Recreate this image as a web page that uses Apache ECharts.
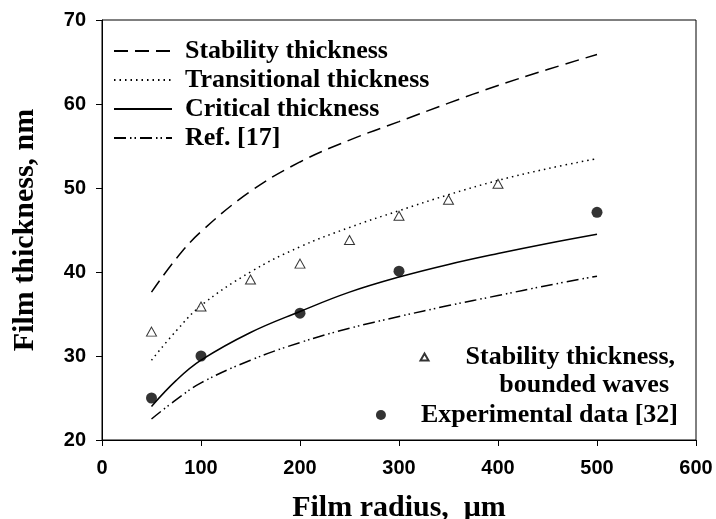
<!DOCTYPE html>
<html>
<head>
<meta charset="utf-8">
<script src="https://cdn.jsdelivr.net/npm/echarts@6/dist/echarts.min.js"></script>
<style>
  html, body { margin: 0; padding: 0; background: #fff; }
  #chart { width: 716px; height: 519px; }
</style>
</head>
<body>
<div id="chart"></div>
<script>
// film radius (um) for the model curves
var radius = [50, 75, 100, 150, 200, 250, 300, 350, 400, 450, 500];
var stability = [37.6, 41.6, 44.8, 49.6, 53.1, 55.7, 57.9, 60.1, 62.2, 64.1, 65.9];
var transitional = [29.5, 33.0, 36.0, 40.0, 43.0, 45.3, 47.3, 49.2, 50.9, 52.3, 53.5];
var critical = [24.0, 27.1, 29.5, 32.8, 35.3, 37.6, 39.4, 40.9, 42.2, 43.4, 44.5];
var ref17 = [22.5, 24.8, 26.8, 29.5, 31.6, 33.3, 34.7, 36.0, 37.2, 38.4, 39.5];

// point data
var boundedRadius = [50, 100, 150, 200, 250, 300, 350, 400];
var boundedValues = [32.9, 35.9, 39.1, 41.0, 43.8, 46.7, 48.6, 50.5];
var expRadius = [50, 100, 200, 300, 500];
var expValues = [25.0, 30.0, 35.1, 40.1, 47.1];

var xTicks = [0, 100, 200, 300, 400, 500, 600];
var yTicks = [20, 30, 40, 50, 60, 70];

function pairs(xs, ys) {
  return xs.map(function (x, i) { return [x, ys[i]]; });
}

var serif = '"Liberation Serif", "Times New Roman", serif';
var sans = '"Liberation Sans", Arial, sans-serif';

var chart = echarts.init(document.getElementById('chart'));

function lineSeries(name, data, type) {
  return {
    name: name,
    type: 'line',
    data: pairs(radius, data),
    smooth: 0.4,
    showSymbol: false,
    symbol: 'none',
    lineStyle: { color: '#000', width: 1.5, type: type },
    itemStyle: { color: '#000' },
    z: 3
  };
}

var option = {
  backgroundColor: '#fff',
  animation: false,
  grid: {
    left: 102, right: 20, top: 20, bottom: 79,
    outerBoundsMode: 'none',
    containLabel: false,
    show: true, borderColor: '#000', borderWidth: 1
  },
  legend: [
    {
      orient: 'vertical',
      left: 113, top: 38,
      padding: 0,
      itemWidth: 58, itemHeight: 14,
      itemGap: 3,
      itemStyle: { opacity: 0 },
      data: ['Stability thickness', 'Transitional thickness', 'Critical thickness', 'Ref. [17]'],
      textStyle: { fontFamily: serif, fontWeight: 'bold', fontSize: 26, color: '#000', lineHeight: 26, padding: [0, 0, 0, 8] }
    },
    {
      right: 41, top: 344,
      padding: 0,
      itemWidth: 8, itemHeight: 7,
      data: ['Stability thickness,'],
      textStyle: { fontFamily: serif, fontWeight: 'bold', fontSize: 26, color: '#000', lineHeight: 26, padding: [0, 0, 0, 32] }
    },
    {
      right: 38, top: 402,
      padding: 0,
      itemWidth: 10, itemHeight: 10,
      data: ['Experimental data [32]'],
      textStyle: { fontFamily: serif, fontWeight: 'bold', fontSize: 26, color: '#000', lineHeight: 26, padding: [0, 0, 0, 30] }
    }
  ],
  graphic: [
    {
      type: 'text',
      right: 47, top: 372,
      style: { text: 'bounded waves', font: 'bold 26px ' + serif, fill: '#000' }
    }
  ],
  xAxis: {
    type: 'value',
    min: xTicks[0], max: xTicks[xTicks.length - 1], interval: 100,
    name: 'Film radius,  \u03bcm',
    nameLocation: 'middle',
    nameGap: 53,
    nameTextStyle: { fontFamily: serif, fontWeight: 'bold', fontSize: 30, color: '#000' },
    axisLine: { lineStyle: { color: '#000', width: 1 } },
    axisTick: { inside: false, length: 6, lineStyle: { color: '#000' } },
    axisLabel: { margin: 18, fontFamily: sans, fontWeight: 'bold', fontSize: 20, color: '#000' },
    splitLine: { show: false }
  },
  yAxis: {
    type: 'value',
    min: yTicks[0], max: yTicks[yTicks.length - 1], interval: 10,
    name: 'Film thickness, nm',
    nameLocation: 'middle',
    nameRotate: 90,
    nameGap: 62,
    nameTextStyle: { fontFamily: serif, fontWeight: 'bold', fontSize: 30, color: '#000' },
    axisLine: { lineStyle: { color: '#000', width: 1 } },
    axisTick: { inside: false, length: 6, lineStyle: { color: '#000' } },
    axisLabel: { margin: 16, fontFamily: sans, fontWeight: 'bold', fontSize: 20, color: '#000' },
    splitLine: { show: false }
  },
  series: [
    lineSeries('Stability thickness', stability, [14, 7]),
    lineSeries('Transitional thickness', transitional, [1.5, 4]),
    lineSeries('Critical thickness', critical, 'solid'),
    lineSeries('Ref. [17]', ref17, [12, 4, 1.5, 3, 1.5, 4]),
    {
      name: 'Stability thickness,',
      type: 'scatter',
      data: pairs(boundedRadius, boundedValues),
      symbol: 'triangle',
      symbolSize: [10, 9],
      itemStyle: { color: '#fff', borderColor: '#000', borderWidth: 1 },
      z: 4
    },
    {
      name: 'Experimental data [32]',
      type: 'scatter',
      data: pairs(expRadius, expValues),
      symbol: 'circle',
      symbolSize: 11,
      itemStyle: { color: '#000' },
      z: 4
    }
  ]
};

chart.setOption(option);
</script>
</body>
</html>
